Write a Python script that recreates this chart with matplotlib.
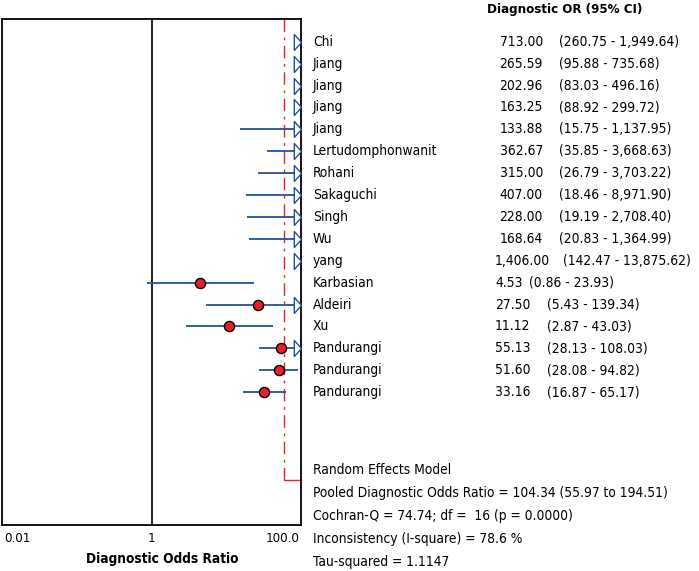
import matplotlib
matplotlib.use("Agg")
import matplotlib.pyplot as plt
import matplotlib.transforms as mtrans
import numpy as np

plt.rcParams['font.family'] = ['DejaVu Sans']
plt.rcParams['font.stretch'] = 'condensed'

# study data (diagnostic odds ratio and 95% CI)
names = ["Chi", "Jiang", "Jiang", "Jiang", "Jiang", "Lertudomphonwanit", "Rohani",
         "Sakaguchi", "Singh", "Wu", "yang", "Karbasian", "Aldeiri", "Xu",
         "Pandurangi", "Pandurangi", "Pandurangi"]
dor = [713.00, 265.59, 202.96, 163.25, 133.88, 362.67, 315.00, 407.00, 228.00,
       168.64, 1406.00, 4.53, 27.50, 11.12, 55.13, 51.60, 33.16]
lo = [260.75, 95.88, 83.03, 88.92, 15.75, 35.85, 26.79, 18.46, 19.19, 20.83,
      142.47, 0.86, 5.43, 2.87, 28.13, 28.08, 16.87]
hi = [1949.64, 735.68, 496.16, 299.72, 1137.95, 3668.63, 3703.22, 8971.90,
      2708.40, 1364.99, 13875.62, 23.93, 139.34, 43.03, 108.03, 94.82, 65.17]

pooled_line_at = 61  # where the red pooled line sits in the picture
stats_lines = ["Random Effects Model",
               "Pooled Diagnostic Odds Ratio = 104.34 (55.97 to 194.51)",
               "Cochran-Q = 74.74; df =  16 (p = 0.0000)",
               "Inconsistency (I-square) = 78.6 %",
               "Tau-squared = 1.1147"]

W, H = 699, 571
fig = plt.figure(figsize=(W / 100, H / 100), dpi=100)
ax = fig.add_axes([2 / W, 1 - 525 / H, 299 / W, 506 / H])

xmin, xmax = 10 ** -2.025, 10 ** 2.015
ax.set_xscale("log")
ax.set_xlim(xmin, xmax)
ax.set_ylim(22.07, -1.04)

blue = "#2450A0"
red = "#E8202A"
n = len(names)
rows = np.arange(n)

ax.axvline(1, color="black", lw=1.2, zorder=1)

# pooled line: dash-dot down, then solid to the right edge
ax.plot([pooled_line_at, pooled_line_at], [-1.04, 19.5], color=red, lw=1.0,
        dashes=(9, 4, 2, 4), zorder=1)
ax.plot([pooled_line_at, pooled_line_at, xmax], [19.5, 20, 20], color=red, lw=1.0,
        zorder=1, clip_on=False)

tri = [(-0.9, -1), (0, 0), (-0.9, 1), (-0.9, -1)]
for i in rows:
    left = lo[i]
    right = min(hi[i], xmax)
    if left < xmax:
        ax.plot([left, right], [i, i], color=blue, lw=1.3, zorder=2,
                solid_capstyle="butt")
    if hi[i] > xmax:
        ax.plot([xmax], [i], marker=tri, ms=11.5, mfc="white", mec=blue, mew=1.0,
                zorder=3, clip_on=False)
    if dor[i] < xmax:
        ax.plot([dor[i]], [i], marker="o", ms=7.3, mfc=red, mec="black", mew=1.0,
                zorder=4)

for s in ax.spines.values():
    s.set_linewidth(1.3)

ax.set_yticks([])
ax.set_xticks([0.01, 1, 100])
ax.set_xticklabels(["0.01", "1", "100.0"])
ax.xaxis.set_minor_locator(matplotlib.ticker.NullLocator())
ax.tick_params(axis="x", length=0, pad=5, labelsize=9.5)
labs = ax.get_xticklabels()
labs[0].set_horizontalalignment("left")
labs[2].set_horizontalalignment("right")

ax.set_xlabel("Diagnostic Odds Ratio", fontsize=9.8, fontweight="bold")
ax.xaxis.set_label_coords((162 - 2) / 299, -(559 - 525) / 506, transform=ax.transAxes)
ax.xaxis.label.set_verticalalignment("center")

# right hand text table
tr = mtrans.blended_transform_factory(fig.transFigure, ax.transData)
fs = 9.9
fig.text(487 / W, 1 - 10 / H, "Diagnostic OR (95% CI)", fontsize=9.5,
         fontweight="bold", va="center", ha="left")

def fmt(v):
    return f"{v:,.2f}"

for i in rows:
    ci = f"({fmt(lo[i])} - {fmt(hi[i])})"
    fig.text(313 / W, i, names[i], transform=tr, fontsize=fs, va="center")
    if i < 10:
        fig.text(543 / W, i, fmt(dor[i]), transform=tr, fontsize=fs, va="center", ha="right")
        fig.text(559 / W, i, ci, transform=tr, fontsize=fs, va="center")
    else:
        ci_x = 563 if i == 10 else (529 if i == 11 else 547)
        fig.text(495 / W, i, fmt(dor[i]), transform=tr, fontsize=fs, va="center")
        fig.text(ci_x / W, i, ci, transform=tr, fontsize=fs, va="center")

for k, line in enumerate(stats_lines):
    fig.text(313 / W, 1 - (470 + 23.1 * k) / H, line, fontsize=fs, va="center")

fig.savefig("out.png", dpi=100)
